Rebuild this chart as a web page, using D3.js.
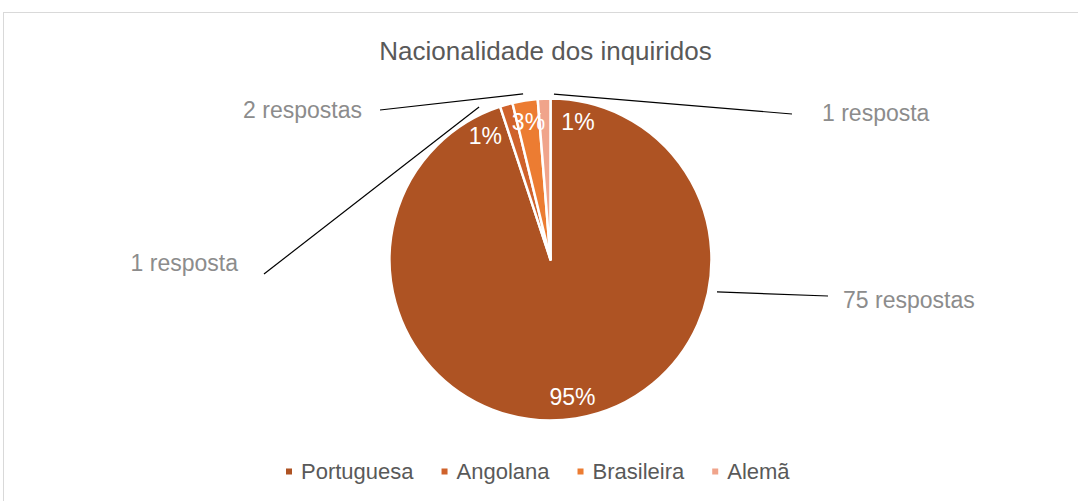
<!DOCTYPE html>
<html>
<head>
<meta charset="utf-8">
<script src="https://cdn.jsdelivr.net/npm/d3@7"></script>
<style>
  html, body { margin: 0; padding: 0; background: #fff; }
  svg { display: block; font-family: "Liberation Sans", Arial, sans-serif; }
</style>
</head>
<body>
<svg id="chart" width="1078" height="501"></svg>
<script>
// ---- data ----
const title = "Nacionalidade dos inquiridos";
const categories = ["Portuguesa", "Angolana", "Brasileira", "Alemã"];
const values = [75, 1, 2, 1];
const countLabels = ["75 respostas", "1 resposta", "2 respostas", "1 resposta"];
const colors = ["#AE5323", "#CF622B", "#EC7C32", "#F0A48B"];

// ---- layout (not data) ----
const W = 1078, H = 501;
const cx = 550.5, cy = 259.5, R = 161;
// percent label offset from default centroid radius, per slice (dx, dy)
const pctShift = [[0, 0], [-27, 10], [0, 0], [33, 1]];
// external count label: text anchor position, anchor, line start, line end polar (deg clockwise from top, radius)
const extLayout = [
  { x: 843, y: 300, anchor: "start", lx: 828, ly: 296, a: 101, r: 169.6 },
  { x: 238, y: 263, anchor: "end",   lx: 264, ly: 274, a: 334.9, r: 168.4 },
  { x: 362, y: 110, anchor: "end",   lx: 380, ly: 110, a: 350.6, r: 167.8 },
  { x: 822, y: 113, anchor: "start", lx: 792, ly: 114, a: 1.2,   r: 165.5 }
];

const svg = d3.select("#chart");

// frame
svg.append("rect")
  .attr("x", 3.5).attr("y", 12.5)
  .attr("width", W + 10).attr("height", H + 10)
  .attr("fill", "#fff").attr("stroke", "#D9D9D9").attr("stroke-width", 1);

// title
svg.append("text")
  .attr("x", 545.5).attr("y", 51)
  .attr("text-anchor", "middle").attr("dominant-baseline", "central")
  .attr("font-size", 26).attr("fill", "#595959")
  .text(title);

const color = d3.scaleOrdinal().domain(categories).range(colors);
const total = d3.sum(values);
const data = categories.map((c, i) => ({ cat: c, value: values[i], i }));

const pie = d3.pie().value(d => d.value).sort(null);
const arcs = pie(data);
const arc = d3.arc().innerRadius(0).outerRadius(R);
const labelArc = d3.arc().innerRadius(139).outerRadius(139);

const g = svg.append("g").attr("transform", `translate(${cx},${cy})`);

g.selectAll("path.slice")
  .data(arcs)
  .join("path")
  .attr("class", "slice")
  .attr("d", arc)
  .attr("fill", d => color(d.data.cat))
  .attr("stroke", "#fff")
  .attr("stroke-width", 2.5)
  .attr("stroke-linejoin", "round");

// percent labels
g.selectAll("text.pct")
  .data(arcs)
  .join("text")
  .attr("class", "pct")
  .attr("x", d => labelArc.centroid(d)[0] + pctShift[d.data.i][0])
  .attr("y", d => labelArc.centroid(d)[1] + pctShift[d.data.i][1])
  .attr("text-anchor", "middle").attr("dominant-baseline", "central")
  .attr("font-size", 23).attr("fill", "#fff")
  .text(d => Math.round(d.data.value / total * 100) + "%");

// leader lines + count labels
const polar = (a, r) => [cx + r * Math.sin(a * Math.PI / 180), cy - r * Math.cos(a * Math.PI / 180)];
arcs.forEach(d => {
  const L = extLayout[d.data.i];
  const p = polar(L.a, L.r);
  svg.append("line")
    .attr("x1", L.lx).attr("y1", L.ly).attr("x2", p[0]).attr("y2", p[1])
    .attr("stroke", "#000").attr("stroke-width", 1.2);
  svg.append("text")
    .attr("x", L.x).attr("y", L.y)
    .attr("text-anchor", L.anchor).attr("dominant-baseline", "central")
    .attr("font-size", 23).attr("fill", "#8C8C8C")
    .text(countLabels[d.data.i]);
});

// legend
const legend = svg.append("g");
let lx = 286;
const ly = 471.5;
categories.forEach((c, i) => {
  legend.append("rect")
    .attr("x", lx).attr("y", ly - 3).attr("width", 6).attr("height", 6)
    .attr("fill", color(c));
  const t = legend.append("text")
    .attr("x", lx + 15).attr("y", ly)
    .attr("dominant-baseline", "central")
    .attr("font-size", 22).attr("fill", "#595959")
    .text(c);
  lx += 15 + t.node().getComputedTextLength() + 28;
});
</script>
</body>
</html>
